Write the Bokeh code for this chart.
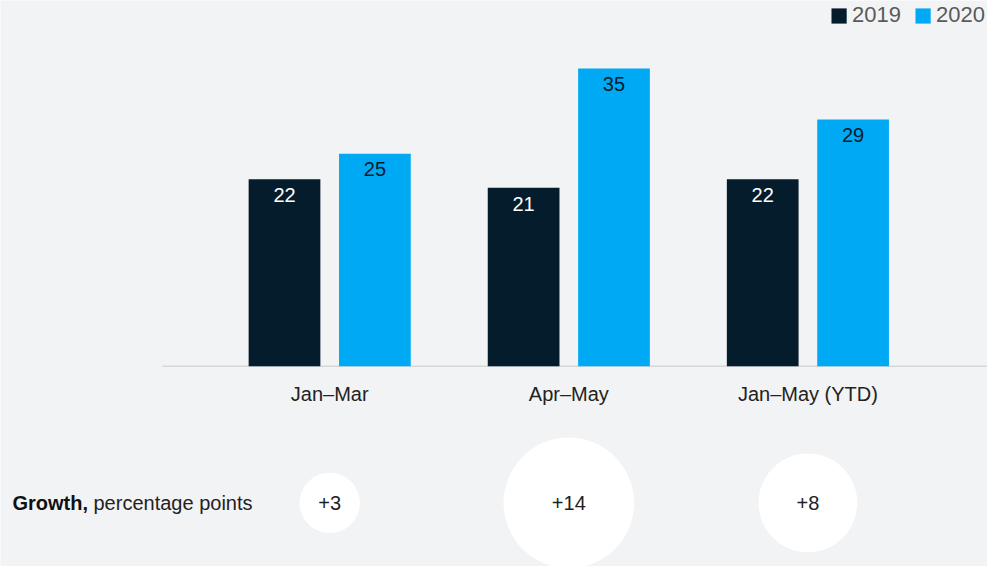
from bokeh.plotting import figure
from bokeh.models import ColumnDataSource, Range1d, Label
from bokeh.transform import dodge
from bokeh.core.properties import value
from bokeh.embed import file_html
from bokeh.resources import INLINE

# ---- data ----
categories = ["Jan\u2013Mar", "Apr\u2013May", "Jan\u2013May (YTD)"]
share_2019 = [22, 21, 22]
share_2020 = [25, 35, 29]
growth = [3, 14, 8]
series_names = ["2019", "2020"]

# ---- style / layout constants ----
FONT = "Liberation Sans"
BG = "#f2f3f5"
DARK = "#051c2c"
BLUE = "#00a9f4"
TEXT = "#222222"
BAR_OFFSET = 0.189
BAR_WIDTH = 0.30
GROWTH_ROW = -16.08          # y position (data units) of the growth bubbles row
BASELINE_LEFT = -0.70        # where the baseline starts (category units)
BUBBLE_PX_PER_SQRT = 34.9    # bubble diameter in px per sqrt(growth)

idx = list(range(len(categories)))
src = ColumnDataSource(dict(
    idx=idx,
    cat=categories,
    y2019=share_2019,
    y2020=share_2020,
    t2019=[str(v) for v in share_2019],
    t2020=[str(v) for v in share_2020],
    zero=[0] * len(categories),
    grow_y=[GROWTH_ROW] * len(categories),
    grow_txt=["+%d" % g for g in growth],
    grow_size=[BUBBLE_PX_PER_SQRT * g ** 0.5 for g in growth],
))

p = figure(width=987, height=566, output_backend="svg", toolbar_location=None,
           x_range=Range1d(-1.3768, 2.7511), y_range=Range1d(-23.56, 43.01),
           x_axis_location=None, y_axis_location=None, min_border=0,
           background_fill_color=BG, border_fill_color=BG)
p.outline_line_color = None
p.xgrid.visible = False
p.ygrid.visible = False

# baseline
p.segment(x0=[BASELINE_LEFT], x1=[p.x_range.end], y0=[0], y1=[0],
          line_color="#c9cacc", line_width=1)

# bars
p.vbar(x=dodge("idx", -BAR_OFFSET, range=p.x_range), top="y2019", bottom=0,
       width=BAR_WIDTH, source=src, fill_color=DARK, line_color=None,
       legend_label=series_names[0])
p.vbar(x=dodge("idx", BAR_OFFSET, range=p.x_range), top="y2020", bottom=0,
       width=BAR_WIDTH, source=src, fill_color=BLUE, line_color=None,
       legend_label=series_names[1])

# bar value labels
p.text(x=dodge("idx", -BAR_OFFSET, range=p.x_range), y="y2019", text="t2019",
       source=src, text_align="center", text_baseline="middle", y_offset=16,
       text_font=value(FONT), text_font_size="20px", text_color="white")
p.text(x=dodge("idx", BAR_OFFSET, range=p.x_range), y="y2020", text="t2020",
       source=src, text_align="center", text_baseline="middle", y_offset=15,
       text_font=value(FONT), text_font_size="20px", text_color=DARK)

# category labels
p.text(x="idx", y="zero", text="cat", source=src, text_align="center",
       text_baseline="middle", y_offset=28, text_font=value(FONT),
       text_font_size="20px", text_color=TEXT)

# growth bubbles
p.scatter(x="idx", y="grow_y", size="grow_size", source=src, marker="circle",
          fill_color="white", line_color=None)
p.text(x="idx", y="grow_y", text="grow_txt", source=src, text_align="center",
       text_baseline="middle", text_font=value(FONT), text_font_size="20px",
       text_color=TEXT)

p.add_layout(Label(x=12, y=GROWTH_ROW, x_units="screen", text="Growth,",
                   text_font=FONT, text_font_size="20px", text_font_style="bold",
                   text_color="#111111", text_baseline="middle"))
p.add_layout(Label(x=93, y=GROWTH_ROW, x_units="screen", text="percentage points",
                   text_font=FONT, text_font_size="20px", text_color=TEXT,
                   text_baseline="middle"))

# legend
lg = p.legend[0]
lg.location = "top_right"
lg.orientation = "horizontal"
lg.margin = 2
lg.padding = 0
lg.spacing = 12
lg.glyph_width = 19
lg.glyph_height = 19
lg.label_standoff = 4
lg.label_text_font = FONT
lg.label_text_font_size = "22px"
lg.label_text_color = "#5a5a5a"
lg.background_fill_alpha = 0
lg.border_line_color = None

open("out.html", "w").write(file_html(p, INLINE))
